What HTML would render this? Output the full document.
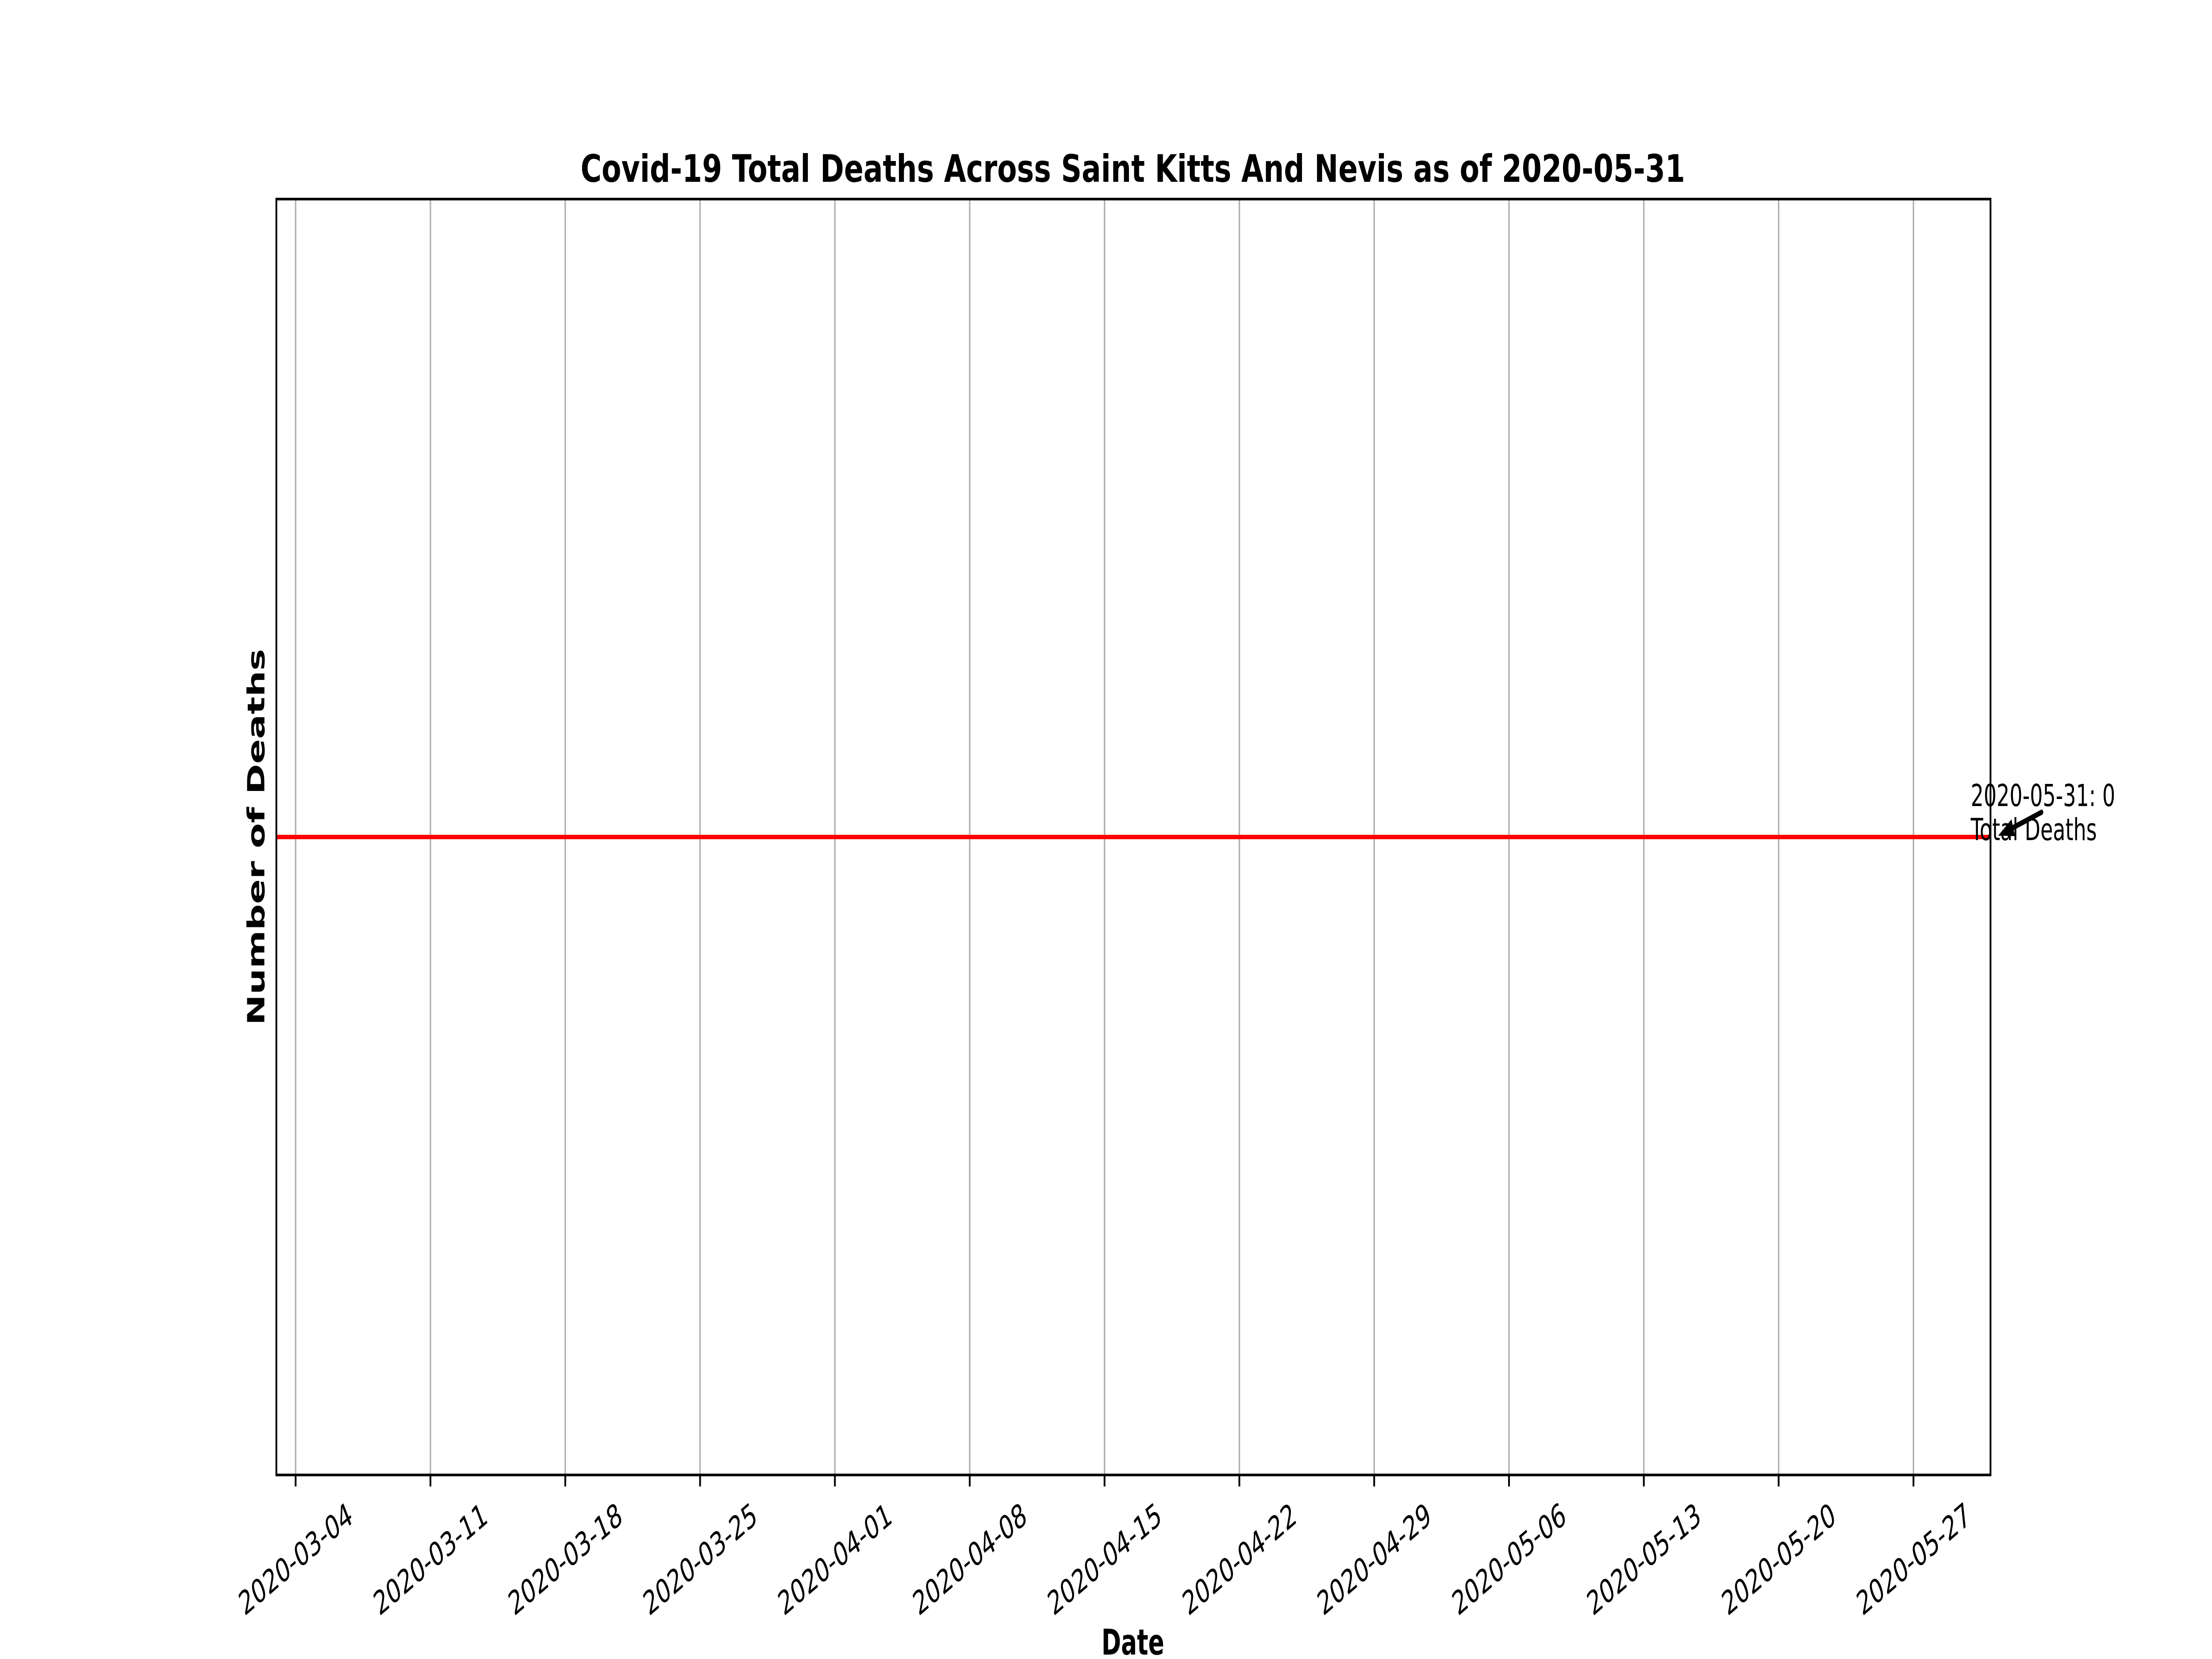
<!DOCTYPE html>
<html><head><meta charset="utf-8"><style>
html,body{margin:0;padding:0;background:#fff;width:100%;height:100%;overflow:hidden;}
svg{display:block;width:100vw;height:100vh;}
text{font-family:"DejaVu Sans","Liberation Sans",sans-serif;fill:#000;}
</style></head><body>
<svg id="chart" viewBox="0 0 7500 3750" preserveAspectRatio="none" xmlns="http://www.w3.org/2000/svg">
<rect x="0" y="0" width="7500" height="3750" fill="#fff"/>
<g id="grid"></g>
<g id="series"></g>
<rect x="937" y="450" width="5812" height="2884" fill="none" stroke="#000" stroke-width="6"/>
<g id="xticks"></g>
<text x="3841" y="411" font-size="86" font-weight="bold" text-anchor="middle" textLength="3745" lengthAdjust="spacingAndGlyphs">Covid-19 Total Deaths Across Saint Kitts And Nevis as of 2020-05-31</text>
<text transform="translate(896,1892) rotate(-90)" font-size="80" font-weight="bold" text-anchor="middle" textLength="851" lengthAdjust="spacingAndGlyphs">Number of Deaths</text>
<text x="3841" y="3740" font-size="80" font-weight="bold" text-anchor="middle">Date</text>
<g id="annot">
<text x="6682" y="1822" font-size="69">2020-05-31: 0</text>
<text x="6682" y="1899" font-size="69">Total Deaths</text>
<line x1="6922" y1="1836" x2="6800" y2="1880" stroke="#000" stroke-width="12" stroke-linecap="round"/>
<polygon points="6775,1889 6820,1852 6832,1890" fill="#000"/>
</g>
</svg>
<script>
const startDate = "2020-03-03";
const endDate = "2020-05-31";
const tickLabels = ["2020-03-04","2020-03-11","2020-03-18","2020-03-25","2020-04-01","2020-04-08","2020-04-15","2020-04-22","2020-04-29","2020-05-06","2020-05-13","2020-05-20","2020-05-27"];
const deathValues = [0,0,0,0,0,0,0,0,0,0,0,0,0,0,0,0,0,0,0,0,0,0,0,0,0,0,0,0,0,0,0,0,0,0,0,0,0,0,0,0,0,0,0,0,0,0,0,0,0,0,0,0,0,0,0,0,0,0,0,0,0,0,0,0,0,0,0,0,0,0,0,0,0,0,0,0,0,0,0,0,0,0,0,0,0,0,0,0,0,0];
const yDomain = [-0.055, 0.055];

const NS = "http://www.w3.org/2000/svg";
const L = 937, R = 6749, T = 450, B = 3334;
const DAY = 86400000;
const t0 = Date.parse(startDate), t1 = Date.parse(endDate);
function xScale(t){ return L + (t - t0) / (t1 - t0) * (R - L); }
function yScale(v){ return B - (v - yDomain[0]) / (yDomain[1] - yDomain[0]) * (B - T); }

const grid = document.getElementById('grid');
const xt = document.getElementById('xticks');
tickLabels.forEach(lbl => {
  const x = xScale(Date.parse(lbl));
  const g = document.createElementNS(NS, 'line');
  g.setAttribute('x1', x); g.setAttribute('x2', x);
  g.setAttribute('y1', T); g.setAttribute('y2', B);
  g.setAttribute('stroke', '#b0b0b0'); g.setAttribute('stroke-width', '5');
  
  
  grid.appendChild(g);
  const tk = document.createElementNS(NS, 'line');
  tk.setAttribute('x1', x); tk.setAttribute('x2', x);
  tk.setAttribute('y1', B); tk.setAttribute('y2', B + 26);
  tk.setAttribute('stroke', '#000'); tk.setAttribute('stroke-width', '6');
  
  
  xt.appendChild(tk);
  const tx = document.createElementNS(NS, 'text');
  tx.setAttribute('transform', 'translate(' + x + ',3524) rotate(-30)');
  tx.setAttribute('text-anchor', 'middle');
  tx.setAttribute('font-size', '74');
  tx.setAttribute('dy', '0.35em');
  tx.textContent = lbl;
  
  
  xt.appendChild(tx);
});

const pts = deathValues.map((v, i) => xScale(t0 + i * DAY).toFixed(1) + ',' + yScale(v).toFixed(1)).join(' ');
const pl = document.createElementNS(NS, 'polyline');
pl.setAttribute('points', pts);
pl.setAttribute('fill', 'none');
pl.setAttribute('stroke', '#ff0000');
pl.setAttribute('stroke-width', '10');


document.getElementById('series').appendChild(pl);
</script>
</body></html>
